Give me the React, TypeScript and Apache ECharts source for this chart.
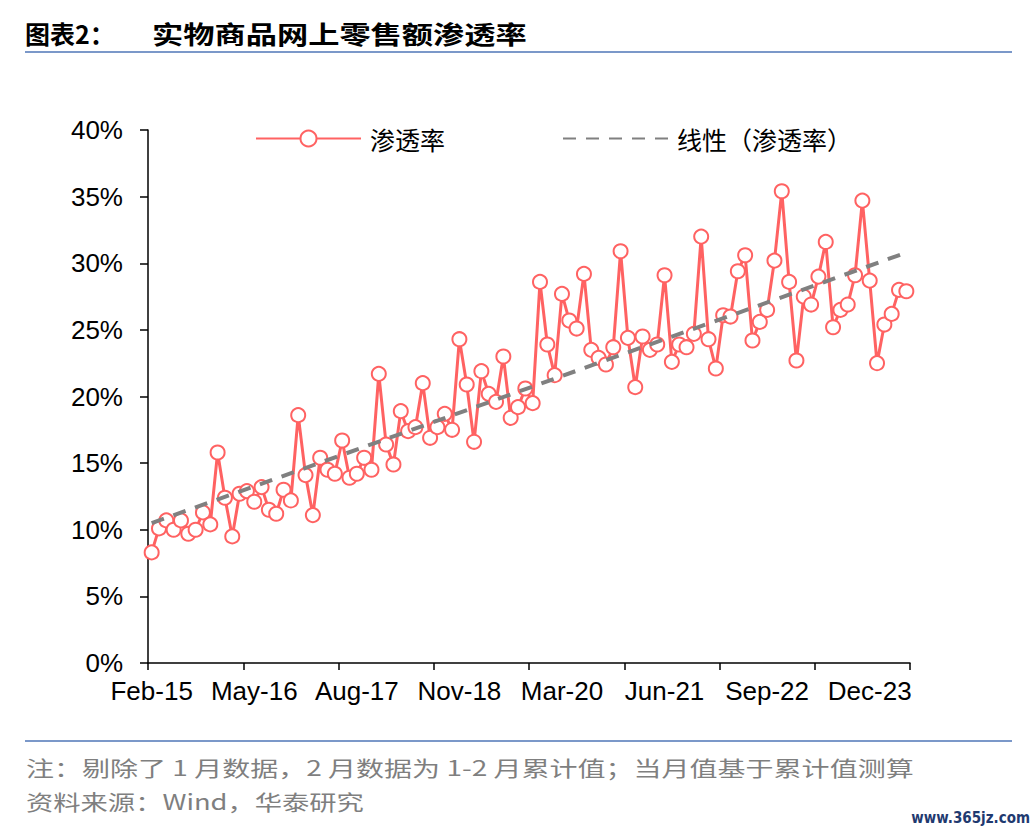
import React, { useEffect, useRef } from "react";
import * as echarts from "echarts";

// ---- Data ----
const categories: string[] = [
  "Feb-15", "Mar-15", "Apr-15", "May-15", "Jun-15", "Jul-15", "Aug-15", "Sep-15", "Oct-15", "Nov-15", "Dec-15",
  "Feb-16", "Mar-16", "Apr-16", "May-16", "Jun-16", "Jul-16", "Aug-16", "Sep-16", "Oct-16", "Nov-16", "Dec-16",
  "Feb-17", "Mar-17", "Apr-17", "May-17", "Jun-17", "Jul-17", "Aug-17", "Sep-17", "Oct-17", "Nov-17", "Dec-17",
  "Feb-18", "Mar-18", "Apr-18", "May-18", "Jun-18", "Jul-18", "Aug-18", "Sep-18", "Oct-18", "Nov-18", "Dec-18",
  "Feb-19", "Mar-19", "Apr-19", "May-19", "Jun-19", "Jul-19", "Aug-19", "Sep-19", "Oct-19", "Nov-19", "Dec-19",
  "Feb-20", "Mar-20", "Apr-20", "May-20", "Jun-20", "Jul-20", "Aug-20", "Sep-20", "Oct-20", "Nov-20", "Dec-20",
  "Feb-21", "Mar-21", "Apr-21", "May-21", "Jun-21", "Jul-21", "Aug-21", "Sep-21", "Oct-21", "Nov-21", "Dec-21",
  "Feb-22", "Mar-22", "Apr-22", "May-22", "Jun-22", "Jul-22", "Aug-22", "Sep-22", "Oct-22", "Nov-22", "Dec-22",
  "Feb-23", "Mar-23", "Apr-23", "May-23", "Jun-23", "Jul-23", "Aug-23", "Sep-23", "Oct-23", "Nov-23", "Dec-23",
  "Feb-24", "Mar-24", "Apr-24", "May-24", "Jun-24",
];

// 渗透率 (%)
const penetration: number[] = [
  8.3, 10.1, 10.7, 10.0, 10.7, 9.7, 10.0, 11.3, 10.4, 15.8, 12.4,
  9.5, 12.7, 12.9, 12.1, 13.2, 11.5, 11.2, 13.0, 12.2, 18.6, 14.1,
  11.1, 15.4, 14.5, 14.2, 16.7, 13.9, 14.2, 15.4, 14.5, 21.7, 16.4,
  14.9, 18.9, 17.4, 17.7, 21.0, 16.9, 17.7, 18.7, 17.5, 24.3, 20.9,
  16.6, 21.9, 20.2, 19.6, 23.0, 18.4, 19.2, 20.6, 19.5, 28.6, 23.9,
  21.6, 27.7, 25.7, 25.1, 29.2, 23.5, 22.9, 22.4, 23.7, 30.9, 24.4,
  20.7, 24.5, 23.5, 23.9, 29.1, 22.6, 23.9, 23.7, 24.7, 32.0, 24.3,
  22.1, 26.1, 26.0, 29.4, 30.6, 24.2, 25.6, 26.5, 30.2, 35.4, 28.6,
  22.7, 27.5, 26.9, 29.0, 31.6, 25.2, 26.5, 26.9, 29.1, 34.7, 28.7,
  22.5, 25.4, 26.2, 28.0, 27.9,
];

// 线性（渗透率）trend line end values (%)
const trendStart = 10.5;
const trendEnd = 30.8;

const yMin = 0;
const yMax = 40;
const yStep = 5;

const seriesNames = ["渗透率", "线性（渗透率）"];
const titlePrefix = "图表2：";
const titleMain = "实物商品网上零售额渗透率";
const noteText = "注：剔除了 1 月数据，2 月数据为 1-2 月累计值；当月值基于累计值测算";
const sourceText = "资料来源：Wind，华泰研究";
const watermark = "www.365jz.com";

const RED = "#FF6262";
const GRAY = "#808080";
const BLUE_RULE = "#7B98C9";
const CJK = '"Noto Sans CJK SC", "Noto Sans", sans-serif';
const LATIN = '"Liberation Sans", Arial, sans-serif';

export default function App() {
  const ref = useRef<HTMLDivElement>(null);

  useEffect(() => {
    if (!ref.current) return;
    const chart = echarts.init(ref.current, null, { renderer: "svg" });
    const last = categories.length - 1;
    const trendData = categories.map((_, i) =>
      i === 0 ? trendStart : i === last ? trendEnd : null
    );

    const option: any = {
      animation: false,
      backgroundColor: "#ffffff",
      grid: {
        left: 148,
        right: 126,
        top: 130,
        bottom: 169,
        containLabel: false,
        outerBoundsMode: "none",
      },
      legend: {
        left: 250,
        top: 121,
        itemWidth: 105,
        itemHeight: 20,
        itemGap: 117,
        textStyle: {
          fontSize: 25,
          color: "#000",
          fontFamily: CJK,
          padding: [0, 0, 0, 4],
        },
        data: [
          { name: seriesNames[0] },
          { name: seriesNames[1], itemStyle: { opacity: 0 } },
        ],
      },
      xAxis: {
        type: "category",
        data: categories,
        boundaryGap: true,
        axisLine: { show: true, lineStyle: { color: "#000", width: 1.5 } },
        axisTick: {
          show: true,
          interval: 12,
          length: 7,
          lineStyle: { color: "#000", width: 1.5 },
        },
        axisLabel: {
          interval: 13,
          color: "#000",
          fontSize: 26,
          fontFamily: LATIN,
          margin: 15,
        },
        splitLine: { show: false },
      },
      yAxis: {
        type: "value",
        min: yMin,
        max: yMax,
        interval: yStep,
        axisLine: { show: true, lineStyle: { color: "#000", width: 1.5 } },
        axisTick: {
          show: true,
          length: 8,
          lineStyle: { color: "#000", width: 1.5 },
        },
        axisLabel: {
          formatter: "{value}%",
          color: "#000",
          fontSize: 26,
          fontFamily: LATIN,
          margin: 25,
        },
        splitLine: { show: false },
      },
      series: [
        {
          name: seriesNames[0],
          type: "line",
          data: penetration,
          symbol: "emptyCircle",
          symbolSize: 14,
          showAllSymbol: true,
          lineStyle: { color: RED, width: 3 },
          itemStyle: { color: RED, borderColor: RED, borderWidth: 3 },
          z: 2,
        },
        {
          name: seriesNames[1],
          type: "line",
          data: trendData,
          connectNulls: true,
          symbol: "none",
          lineStyle: { color: GRAY, width: 4, type: [13, 10] },
          itemStyle: { color: GRAY },
          z: 3,
        },
      ],
      graphic: [
        {
          type: "text",
          x: 25,
          y: 33,
          style: {
            text: titlePrefix,
            fontSize: 25,
            fontWeight: "bold",
            fontFamily: CJK,
            fill: "#000",
            verticalAlign: "middle",
          },
        },
        {
          type: "text",
          x: 152,
          y: 33,
          scaleX: 1.25,
          style: {
            text: titleMain,
            fontSize: 25,
            fontWeight: "bold",
            fontFamily: CJK,
            fill: "#000",
            verticalAlign: "middle",
          },
        },
        {
          type: "line",
          shape: { x1: 25, y1: 52, x2: 1012, y2: 52 },
          style: { stroke: BLUE_RULE, lineWidth: 2 },
        },
        {
          type: "line",
          shape: { x1: 25, y1: 741, x2: 1012, y2: 741 },
          style: { stroke: BLUE_RULE, lineWidth: 2 },
        },
        {
          type: "text",
          x: 26,
          y: 767,
          scaleX: 1.335,
          style: {
            text: noteText,
            fontSize: 21,
            fontFamily: CJK,
            fill: "#7F7F7F",
            verticalAlign: "middle",
          },
        },
        {
          type: "text",
          x: 26,
          y: 801,
          scaleX: 1.3,
          style: {
            text: sourceText,
            fontSize: 21,
            fontFamily: CJK,
            fill: "#7F7F7F",
            verticalAlign: "middle",
          },
        },
        {
          type: "text",
          x: 1030,
          y: 818,
          style: {
            text: watermark,
            fontSize: 15,
            fontWeight: "bold",
            fontFamily: '"DejaVu Sans Condensed", "Liberation Sans Narrow", sans-serif',
            fill: "#1F3A70",
            align: "right",
            verticalAlign: "middle",
          },
        },
      ],
    };

    chart.setOption(option);
    return () => chart.dispose();
  }, []);

  return (
    <div
      ref={ref}
      style={{
        position: "fixed",
        left: 0,
        top: 0,
        width: 1036,
        height: 832,
        background: "#fff",
      }}
    />
  );
}
